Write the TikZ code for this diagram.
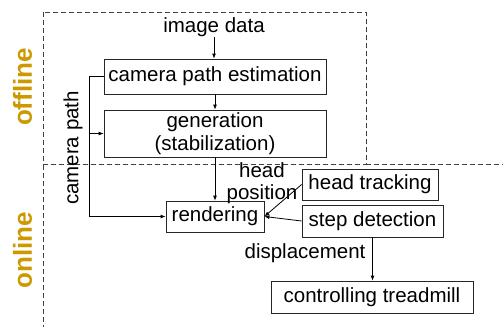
\documentclass[tikz,border=0pt]{standalone}
\usepackage{fontspec}
\setmainfont{Liberation Sans}
\usetikzlibrary{arrows.meta}
\definecolor{lblorange}{RGB}{204,153,0}
\tikzset{
  box/.style={draw=black!85, line width=0.8pt, inner sep=0pt, align=center, font=\fontsize{20.5}{23}\selectfont},
  txt/.style={inner sep=0pt, align=center, font=\fontsize{20.5}{22}\selectfont},
  zone/.style={inner sep=0pt, text=lblorange, font=\fontsize{26}{28}\selectfont\bfseries, rotate=90},
  conn/.style={line width=0.8pt, -{Latex[length=5pt,width=4pt]}},
  plainline/.style={line width=0.8pt},
  region/.style={draw=black!75, line width=0.9pt, dash pattern=on 5pt off 3pt}
}
\begin{document}
\begin{tikzpicture}[x=1pt,y=-1pt]
\useasboundingbox (0,0) rectangle (503,327);
% regions
\draw[region] (43,12) rectangle (366,164.5);
\draw[region] (366,164.5) -- (503,164.5);
\draw[region] (43,164.5) -- (43,327);
\node[zone] (off) at (22.5,87) {offline};
\node[zone] (on) at (22.5,250) {online};
% nodes
\node[txt] (img) at (214,27) {image data};
\node[box, minimum width=222pt, minimum height=35pt] (cpe) at (215,76.5) {camera path estimation};
\node[box, minimum width=222pt, minimum height=47pt] (gen) at (215,133.5) {generation\\(stabilization)};
\node[box, minimum width=98pt, minimum height=31pt] (rend) at (215,216.5) {rendering};
\node[box, minimum width=136pt, minimum height=31pt] (ht) at (370,184.5) {head tracking};
\node[box, minimum width=141pt, minimum height=32pt] (sd) at (372.5,221) {step detection};
\node[box, minimum width=202pt, minimum height=32pt] (ctrl) at (372,297) {controlling treadmill};
\node[txt] (hp) at (262,183) {head\\position};
\node[txt] (disp) at (305,253) {displacement};
\node[txt, rotate=90] (cp) at (73,148) {camera path};
\coordinate (cpc) at (89,216.5);
% connectors
\draw[conn] (img.south) -- (img.south |- cpe.north);
\draw[conn] (cpe.south) -- (gen.north);
\draw[conn] (gen.south) -- (rend.north);
\draw[plainline] (cpe.west) -| (cpc);
\draw[conn] (cpc) -- (rend.west);
\draw[conn] (cpc |- gen.west) -- (gen.west);
\draw[conn] (ht.west) -- (rend.east);
\draw[conn] (sd.west) -- (rend.east);
\draw[conn] (sd.south) -- (sd.south |- ctrl.north);
\end{tikzpicture}
\end{document}
